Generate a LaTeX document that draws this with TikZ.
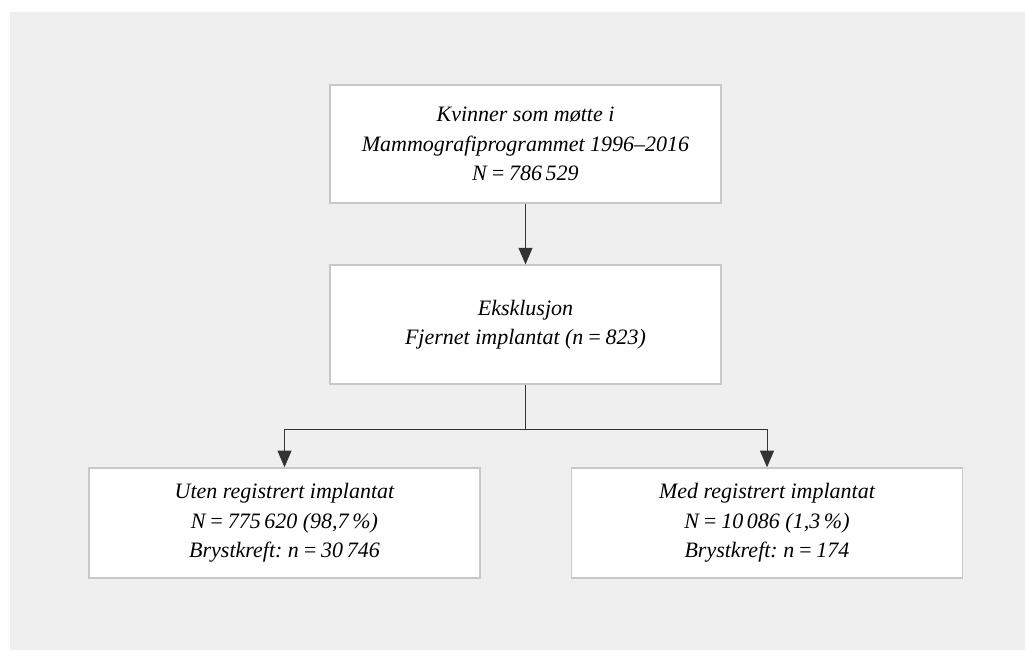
\documentclass[tikz,border=0pt]{standalone}
\usepackage{fontspec}
\setmainfont{Liberation Serif}
\usepackage{tikz}
\usepackage{xcolor}
\usetikzlibrary{arrows.meta}
\usetikzlibrary{positioning}
\definecolor{panelgray}{HTML}{EFEFEF}
\definecolor{boxline}{HTML}{C8C8C8}
\definecolor{linkgray}{HTML}{333333}
\frenchspacing

\begin{document}
\begin{tikzpicture}[x=0.75pt, y=-0.75pt,
    box/.style={draw=boxline, line width=1.1pt, fill=white, inner sep=0pt,
        minimum width=293pt, align=center,
        font=\itshape\fontsize{16.5}{22}\selectfont},
    arr/.style={draw=linkgray, line width=0.75pt,
        -{Triangle[width=10.5pt, length=12.5pt]}}]
    \useasboundingbox (0,0) rectangle (1025,650);
    \fill[panelgray] (10,12) rectangle (1025,650);
    \node[box, minimum height=88.5pt] (start) at (525.5,144)
        {Kvinner som møtte i\\Mammografiprogrammet 1996–2016\\N\,=\,786\,529};
    \node[box, minimum height=89pt] (excl) at (525.5,324.5)
        {Eksklusjon\\Fjernet implantat (n\,=\,823)};
    \node[box, minimum height=82.5pt] (without) at (284.5,523)
        {Uten registrert implantat\\N\,=\,775\,620 (98,7\,\%)\\Brystkreft: n\,=\,30\,746};
    \node[box, minimum height=82.5pt] (with) at (767,523)
        {Med registrert implantat\\N\,=\,10\,086 (1,3\,\%)\\Brystkreft: n\,=\,174};
    \coordinate (split) at (525.5,429);
    \draw[arr] (start) -- (excl);
    \draw[linkgray, line width=0.75pt] (excl) -- (split);
    \draw[arr] (split) -| (without.north);
    \draw[arr] (split) -| (with.north);
\end{tikzpicture}
\end{document}
